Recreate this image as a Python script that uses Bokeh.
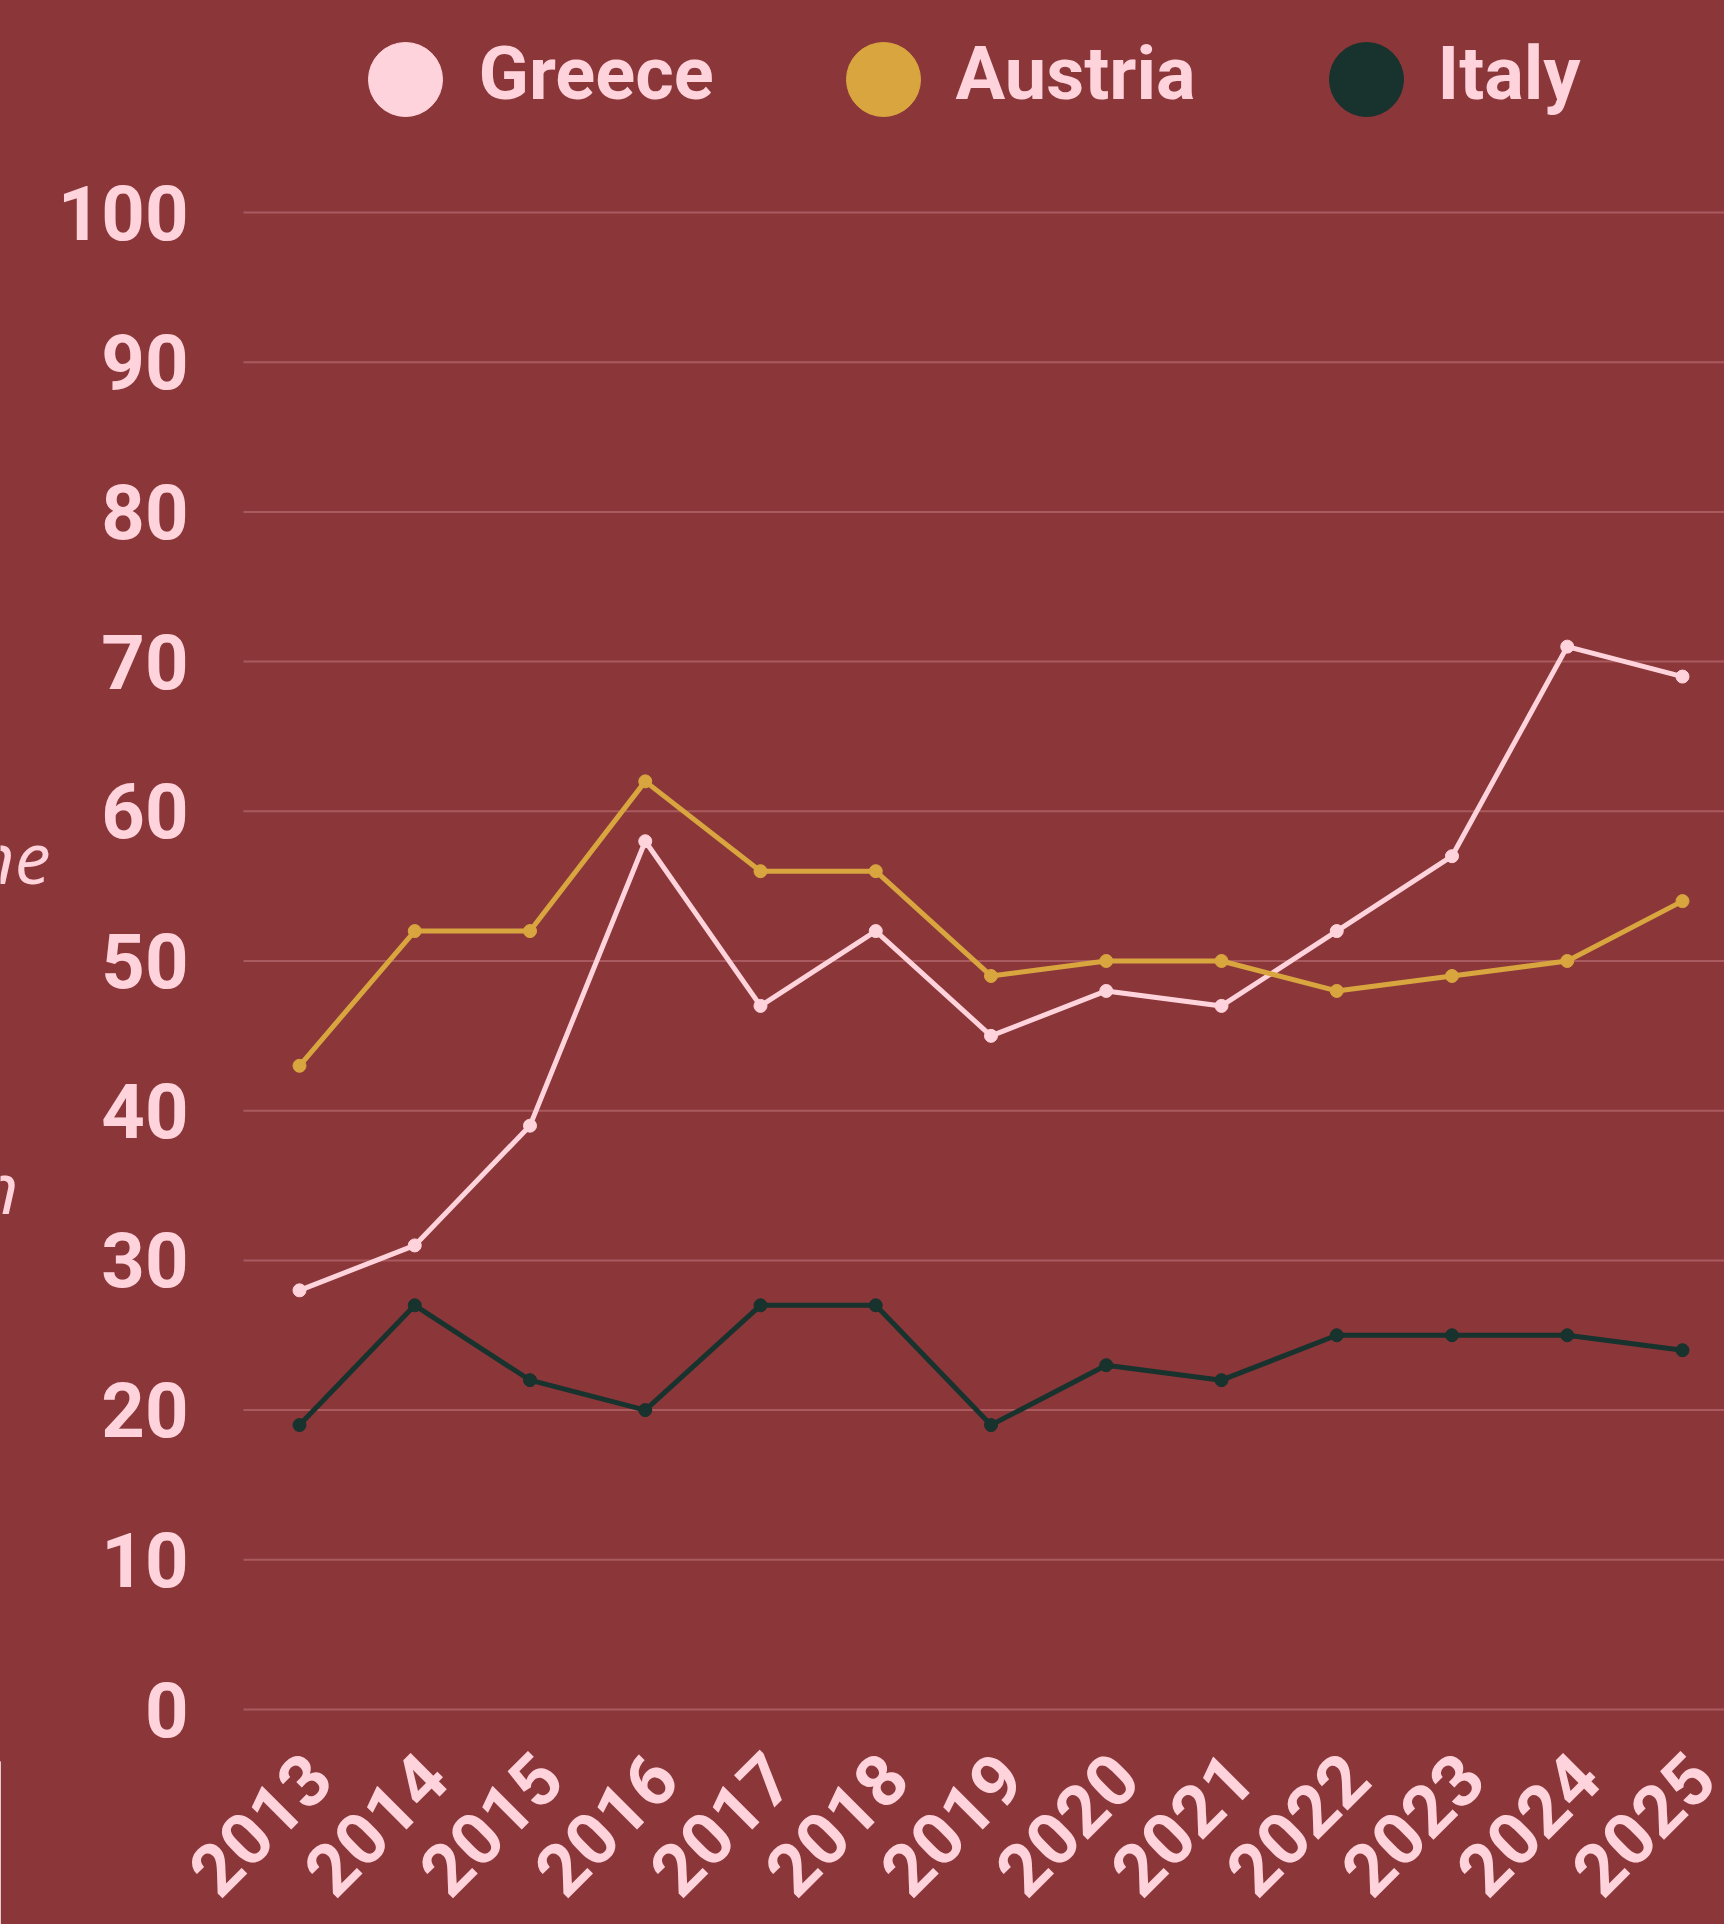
import math
from bokeh.plotting import figure
from bokeh.models import Range1d, Label, LinearAxis, FixedTicker
from bokeh.embed import file_html
from bokeh.resources import INLINE

years = list(range(2013, 2026))
greece = [28, 31, 39, 58, 47, 52, 45, 48, 47, 52, 57, 71, 69]
austria = [43, 52, 52, 62, 56, 56, 49, 50, 50, 48, 49, 50, 54]
italy = [19, 27, 22, 20, 27, 27, 19, 23, 22, 25, 25, 25, 24]
series_names = ["Greece", "Austria", "Italy"]
y_ticks = list(range(0, 101, 10))
y_labels = [str(t) for t in y_ticks]

BG = "#8B373A"
PINK = "#FFD3DC"
GOLD = "#D9A53F"
DARK = "#18322D"
GRID = "#A95A5E"
colors = [PINK, GOLD, DARK]

W, H = 1724, 1924
# plot area in page pixels
PL, PR, PT, PB = 243, 1724, 212, 1709
X0_PX, X1_PX = 299, 1682  # 2013 and 2025 positions
FB = 1759                 # bottom of drawing frame (below the "0" label)
xs = (X1_PX - X0_PX) / (years[-1] - years[0])
ys = (PB - PT) / 100.0
x_start = years[0] - X0_PX / xs
x_end = years[-1] + (W - X1_PX) / xs
LAB_SHIFT = 19  # px: rotated year labels sit a little right of their tick

p = figure(width=W, height=H, output_backend="svg", toolbar_location=None,
           x_axis_location=None, y_axis_location=None,
           x_range=Range1d(x_start, x_end),
           y_range=Range1d(-(FB - PB) / ys, 100 + PT / ys),
           min_border_left=0, min_border_right=0, min_border_top=0, min_border_bottom=H - FB)
p.background_fill_color = BG
p.border_fill_color = BG
p.outline_line_color = BG
p.outline_line_width = 4
p.grid.visible = False

# pixel-space ranges (page coordinates) for layout placement
p.extra_x_ranges = {"px": Range1d(0, W),
                    "xlab": Range1d(x_start - LAB_SHIFT / xs, x_end - LAB_SHIFT / xs)}
p.extra_y_ranges = {"px": Range1d(FB, 0)}

# x axis with rotated year labels
xaxis = LinearAxis(x_range_name="xlab", ticker=FixedTicker(ticks=years))
xaxis.axis_line_color = None
xaxis.major_tick_line_color = None
xaxis.minor_tick_line_color = None
xaxis.major_label_text_color = PINK
xaxis.major_label_text_font = "Roboto"
xaxis.major_label_text_font_style = "bold"
xaxis.major_label_text_font_size = "72px"
xaxis.major_label_orientation = math.pi / 4
xaxis.major_label_standoff = 0
p.add_layout(xaxis, "below")

# horizontal grid lines at the y ticks
p.segment(x0=[PL] * len(y_ticks), x1=[PR] * len(y_ticks), y0=y_ticks, y1=y_ticks,
          x_range_name="px", line_color=GRID, line_width=2)

# y tick labels
for t, lab in zip(y_ticks, y_labels):
    p.add_layout(Label(x=188, y=t, x_range_name="px", text=lab,
                       text_align="right", text_baseline="middle",
                       text_color=PINK, text_font="Roboto", text_font_style="bold",
                       text_font_size="76px"))

for vals, col in zip([greece, austria, italy], colors):
    p.line(years, vals, line_color=col, line_width=5)
    p.scatter(years, vals, size=13, fill_color=col, line_color=col)

# legend
leg_cx = [405, 883, 1366]
leg_tx = [478, 955, 1437]
p.scatter(leg_cx, [79, 79, 79], size=74, fill_color=colors, line_color=colors,
          x_range_name="px", y_range_name="px")
for name, tx in zip(series_names, leg_tx):
    p.add_layout(Label(x=tx, y=73, text=name, x_range_name="px", y_range_name="px",
                       text_color=PINK, text_font="Roboto", text_font_style="bold",
                       text_font_size="74px", text_baseline="alphabetic", text_align="left"))

# partially visible italic side text
p.add_layout(Label(x=50, y=855, text="ne", x_range_name="px", y_range_name="px",
                   text_color=PINK, text_font="Open Sans", text_font_style="italic",
                   text_font_size="72px", text_baseline="alphabetic", text_align="right"))
p.add_layout(Label(x=18, y=1185, text="n", x_range_name="px", y_range_name="px",
                   text_color=PINK, text_font="Open Sans", text_font_style="italic",
                   text_font_size="72px", text_baseline="alphabetic", text_align="right"))

html = file_html(p, INLINE)
html = html.replace("<body>", '<body style="background-color:%s;">' % BG, 1)
open("out.html", "w").write(html)
